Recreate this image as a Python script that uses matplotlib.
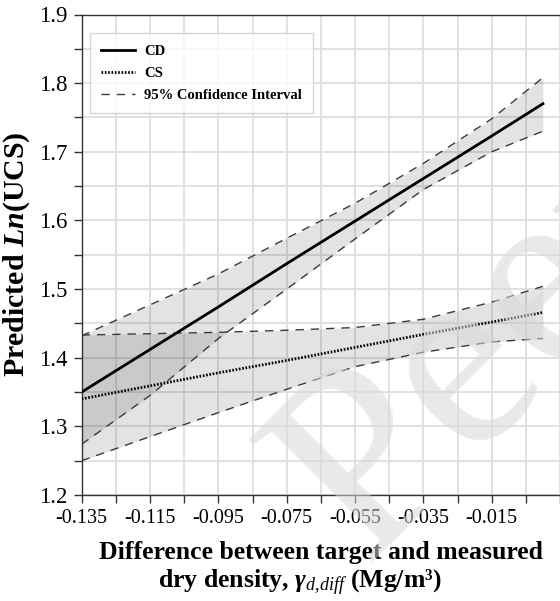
import matplotlib
matplotlib.use("Agg")
import matplotlib.pyplot as plt
import numpy as np

plt.rcParams['font.family'] = ['Liberation Serif', 'DejaVu Serif']
plt.rcParams['mathtext.fontset'] = 'custom'
plt.rcParams['mathtext.rm'] = 'Liberation Serif'
plt.rcParams['mathtext.it'] = 'Liberation Serif:italic'
plt.rcParams['mathtext.bf'] = 'Liberation Serif:bold'
plt.rcParams['mathtext.bfit'] = 'Liberation Serif:bold:italic'

# ---- data ----
x_vals = [-0.135, -0.115, -0.095, -0.075, -0.055, -0.035, -0.015, 0.0]
cd_pred = [1.350, 1.412, 1.474, 1.537, 1.599, 1.661, 1.723, 1.770]
cd_upper = [1.432, 1.477, 1.522, 1.574, 1.625, 1.683, 1.748, 1.808]
cd_lower = [1.274, 1.345, 1.428, 1.500, 1.573, 1.645, 1.700, 1.730]
cs_pred = [1.340, 1.359, 1.378, 1.396, 1.415, 1.434, 1.452, 1.466]
cs_upper = [1.433, 1.435, 1.437, 1.440, 1.444, 1.456, 1.481, 1.504]
cs_lower = [1.250, 1.285, 1.320, 1.354, 1.387, 1.408, 1.423, 1.428]

x_ticks = [-0.135, -0.125, -0.115, -0.105, -0.095, -0.085, -0.075, -0.065,
           -0.055, -0.045, -0.035, -0.025, -0.015, -0.005, 0.005]
x_tick_labels = ['-0.135', '', '-0.115', '', '-0.095', '', '-0.075', '',
                 '-0.055', '', '-0.035', '', '-0.015', '', '']
y_ticks = [1.2, 1.25, 1.3, 1.35, 1.4, 1.45, 1.5, 1.55, 1.6, 1.65, 1.7, 1.75,
           1.8, 1.85, 1.9]
y_tick_labels = ['1.2', '', '1.3', '', '1.4', '', '1.5', '', '1.6', '', '1.7',
                 '', '1.8', '', '1.9']

fig = plt.figure(figsize=(5.6, 6.01), dpi=100)
ax = fig.add_axes([81.7 / 560, 1 - 495 / 601, 1 - 81.7 / 560, (495 - 14.5) / 601])

ax.set_xlim(-0.135, 0.0044)
ax.set_ylim(1.2, 1.9)

# bands
ax.fill_between(x_vals, cd_lower, cd_upper, color='black', alpha=0.11, lw=0, zorder=2)
ax.fill_between(x_vals, cs_lower, cs_upper, color='black', alpha=0.11, lw=0, zorder=2)

ci_kw = dict(color='#3a3a3a', lw=1.0, dashes=(6, 5), zorder=3)
ax.plot(x_vals, cd_upper, **ci_kw)
ax.plot(x_vals, cd_lower, **ci_kw)
ax.plot(x_vals, cs_upper, **ci_kw)
ax.plot(x_vals, cs_lower, **ci_kw)

l_cd, = ax.plot(x_vals, cd_pred, color='black', lw=2.0, zorder=4)
l_cs, = ax.plot(x_vals, cs_pred, color='black', lw=2.0, dashes=(0.6, 0.6), zorder=4)
l_ci, = ax.plot([], [], **ci_kw)

ax.set_xticks(x_ticks)
ax.set_xticklabels(x_tick_labels)
ax.set_yticks(y_ticks)
ax.set_yticklabels(y_tick_labels)
ax.tick_params(axis='both', direction='out', length=6, width=1, color='#333333', pad=4)
ax.tick_params(axis='x', labelsize=14.5)
ax.tick_params(axis='y', labelsize=16.5)
ax.grid(True, color='#dedede', lw=1.3, zorder=0)
ax.set_axisbelow(True)
for s in ['left', 'bottom', 'top']:
    ax.spines[s].set_color('#333333')
    ax.spines[s].set_linewidth(1.0)
ax.spines['right'].set_visible(False)

leg = ax.legend([l_cd, l_cs, l_ci], ['CD', 'CS', '95% Confidence Interval'],
                loc='upper left', bbox_to_anchor=(0.017, 0.9615),
                prop={'weight': 'bold', 'size': 10.5}, frameon=True, fancybox=False,
                edgecolor='#cccccc', handlelength=2.3, borderpad=0.8,
                labelspacing=0.6, handletextpad=0.6, borderaxespad=0)
leg.get_frame().set_linewidth(1.0)

ax.set_ylabel(r'Predicted $\mathbfit{Ln}$(UCS)', fontsize=21.5, fontweight='bold', labelpad=5)

fig.text(321 / 560, 1 - 552 / 601, 'Difference between target and measured',
         ha='center', va='center', fontsize=18.5, fontweight='bold')
fig.text(300 / 560, 1 - 583 / 601,
         r'dry density, $\mathbfit{\gamma}_{\mathit{d{,}diff}}$ (Mg/m³)',
         ha='center', va='center', fontsize=18.5, fontweight='bold')

# watermark
fig.text(0.866, 0.414, 'Peer', fontsize=190, color='#d8d8d8', alpha=0.55,
         rotation=45, ha='center', va='center', family='Liberation Serif', zorder=10)

fig.savefig('out.png', dpi=100)
